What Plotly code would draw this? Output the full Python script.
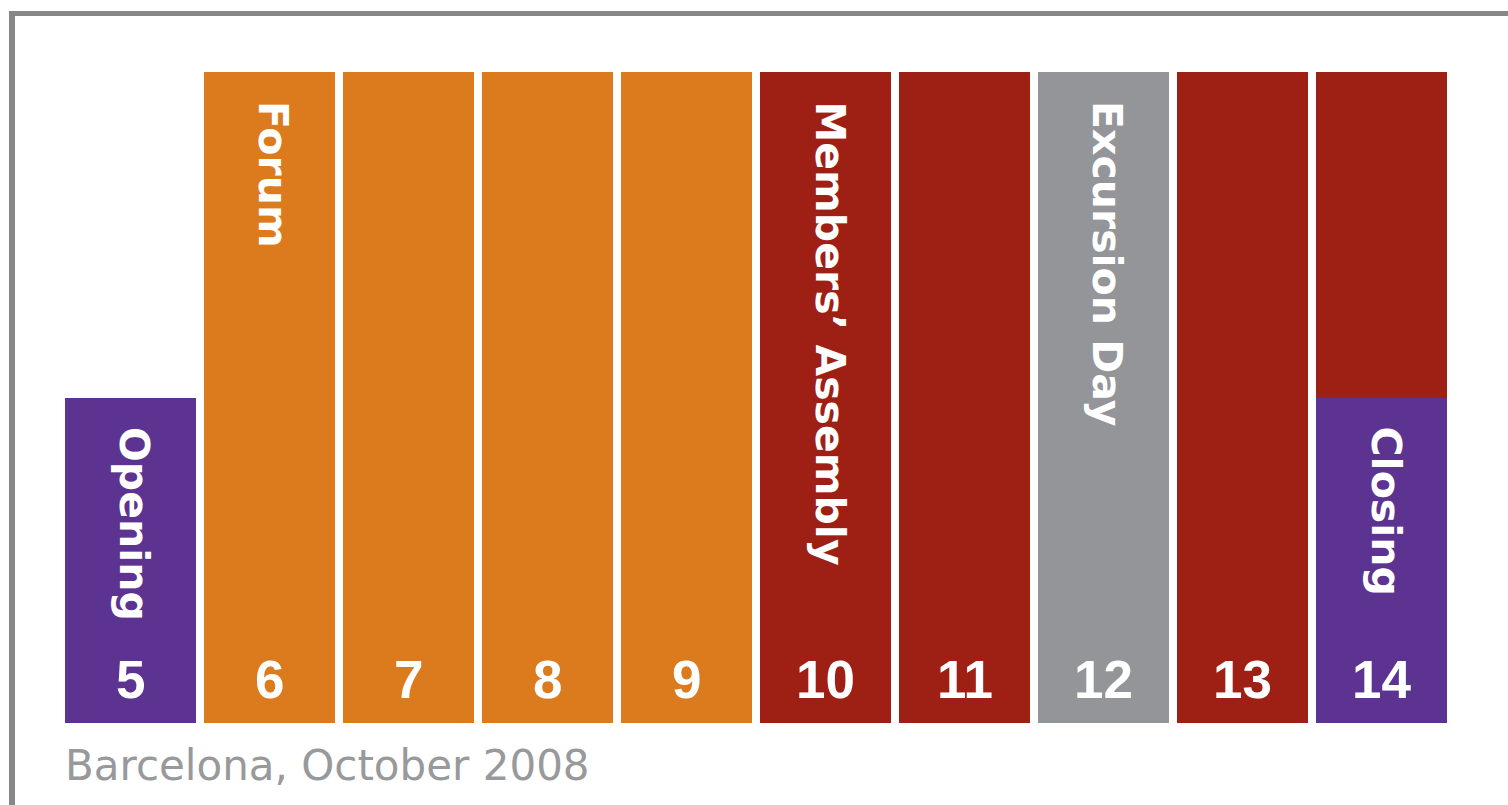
import plotly.graph_objects as go

# ---- data ----
days = [5, 6, 7, 8, 9, 10, 11, 12, 13, 14]
opening = [0.5, 0, 0, 0, 0, 0, 0, 0, 0, 0]
closing = [0, 0, 0, 0, 0, 0, 0, 0, 0, 0.5]
forum = [0, 1, 1, 1, 1, 0, 0, 0, 0, 0]
members = [0, 0, 0, 0, 0, 1, 1, 0, 1, 0.5]
excursion = [0, 0, 0, 0, 0, 0, 0, 1, 0, 0]

labels = [
    ("Opening", 5, 0.5),
    ("Forum", 6, 1),
    ("Members’ Assembly", 10, 1),
    ("Excursion Day", 12, 1),
    ("Closing", 14, 0.5),
]
caption = "Barcelona, October 2008"

PURPLE = "#5c3391"
ORANGE = "#db7b1e"
RED = "#9e1f14"
GRAY = "#939598"

W, H = 1508, 805
L, R, T, B = 61, 57, 72, 82
PW, PH = W - L - R, H - T - B


def xp(px):
    return (px - L) / PW


def yp(py):
    return (H - B - py) / PH


fig = go.Figure()
for name, vals, col in [
    ("Opening", opening, PURPLE),
    ("Closing", closing, PURPLE),
    ("Forum", forum, ORANGE),
    ("Members’ Assembly", members, RED),
    ("Excursion Day", excursion, GRAY),
]:
    fig.add_trace(go.Bar(x=days, y=vals, name=name, marker=dict(color=col, line=dict(width=0)),
                         hoverinfo="skip"))

anns = []
for text, d, top in labels:
    anns.append(dict(x=d, y=top, xref="x", yref="y", text=text, showarrow=False,
                     textangle=90, xanchor="center", yanchor="top", yshift=-27, xshift=4,
                     font=dict(family="DejaVu Sans", size=41, color="white", weight="bold")))
for d in days:
    anns.append(dict(x=d, y=0, xref="x", yref="y", text=str(d), showarrow=False,
                     xanchor="center", yanchor="middle", yshift=44,
                     font=dict(family="Liberation Sans, Arial", size=53, color="white", weight="bold")))
anns.append(dict(x=xp(63), y=yp(765), xref="paper", yref="paper", text=caption, showarrow=False,
                 xanchor="left", yanchor="middle",
                 font=dict(family="DejaVu Sans", size=42, color="#98999b")))

shapes = [
    dict(type="line", xref="paper", yref="paper", x0=xp(12), x1=xp(1530), y0=yp(13.5), y1=yp(13.5),
         line=dict(color="#878787", width=5)),
    dict(type="line", xref="paper", yref="paper", x0=xp(12), x1=xp(12), y0=yp(11), y1=yp(830),
         line=dict(color="#878787", width=6)),
]

fig.update_layout(
    width=W, height=H,
    margin=dict(l=L, r=R, t=T, b=B, pad=0),
    barmode="stack", bargap=8 / 139,
    showlegend=False,
    plot_bgcolor="white", paper_bgcolor="white",
    xaxis=dict(range=[4.5, 14.5], visible=False, fixedrange=True),
    yaxis=dict(range=[0, 1], visible=False, fixedrange=True),
    annotations=anns, shapes=shapes,
)

fig.write_html("out.html", config={"displayModeBar": False},
               post_script="document.body.style.margin='0';")
